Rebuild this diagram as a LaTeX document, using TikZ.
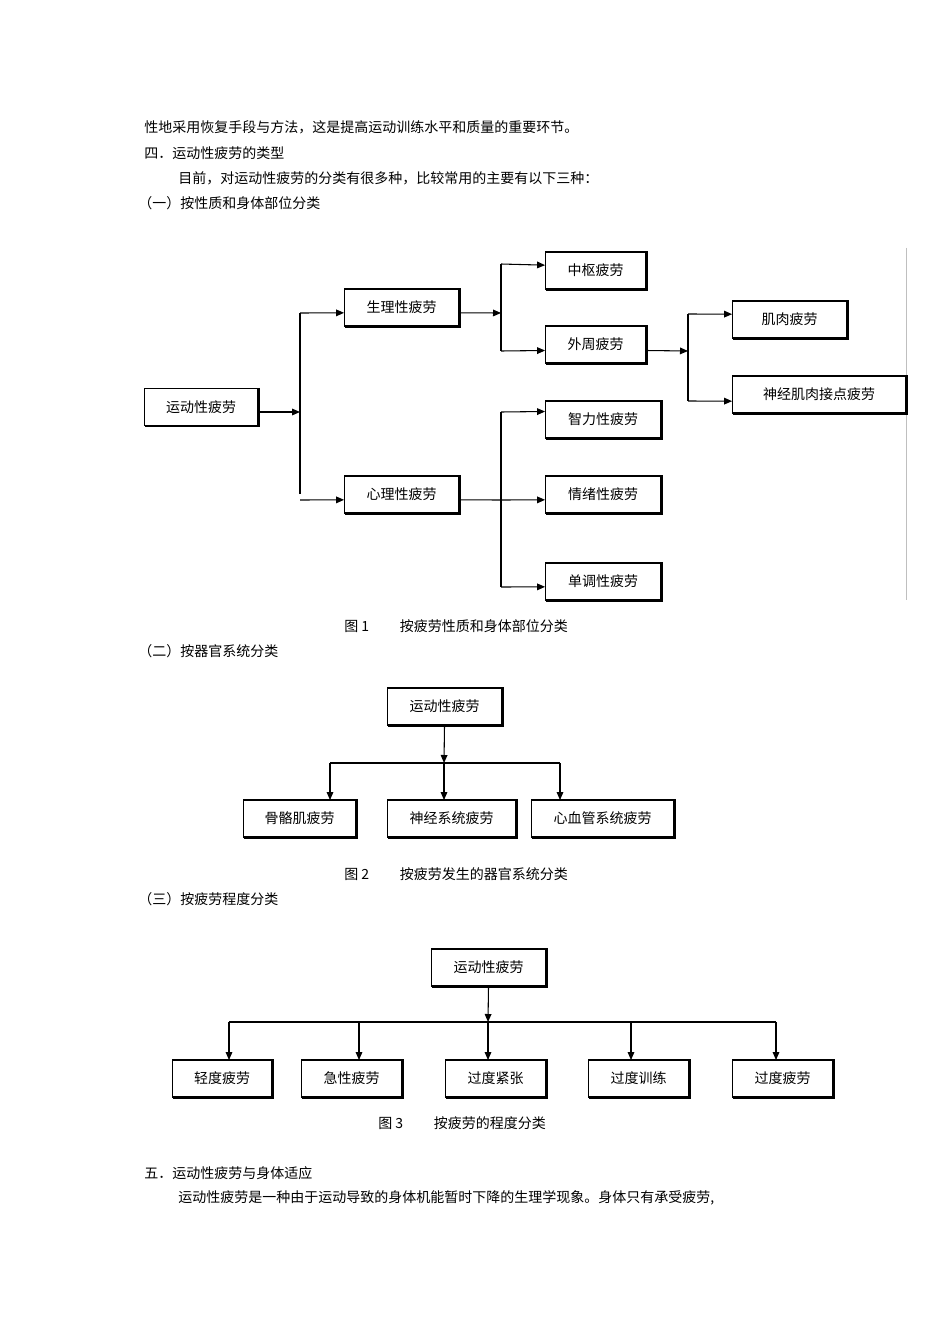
\documentclass[tikz,border=0pt]{standalone}
\usepackage{fontspec}
\setmainfont{Noto Sans CJK SC}
\usetikzlibrary{arrows.meta}
\begin{document}
\begin{tikzpicture}[x=0.75pt,y=-0.75pt,font=\fontsize{10.5pt}{12pt}\selectfont,
  box/.style={draw,line width=0.9pt,minimum height=27.75pt,inner sep=0pt,fill=white},
  txt/.style={anchor=west,inner sep=0pt},
  ln/.style={line width=0.8pt},
  ar/.style={ln,-{Triangle[length=6pt,width=5pt]}}]
\useasboundingbox (0,0) rectangle (950,1344);
\fill[white] (0,0) rectangle (950,1344);
\newcommand{\bx}[5]{\node[box,minimum width=#4*0.75pt-1pt] (#1) at (#2+#4/2,#3) {#5};
  \draw[line width=1.8pt] ([xshift=1pt]#1.north east) -- ([xshift=1pt]#1.south east) -- ([xshift=1pt]#1.south west);}
% texts
\node[txt] (t1) at (144,127) {性地采用恢复手段与方法，这是提高运动训练水平和质量的重要环节。};
\node[txt] (t2) at (144,153) {四．运动性疲劳的类型};
\node[txt] (t3) at (178,178) {目前，对运动性疲劳的分类有很多种，比较常用的主要有以下三种：};
\node[txt] (t4) at (138,203) {（一）按性质和身体部位分类};
\node[txt] (c1) at (344,626) {图 1\hspace{2.2em}按疲劳性质和身体部位分类};
\node[txt] (t5) at (138,651) {（二）按器官系统分类};
\node[txt] (c2) at (344,874) {图 2\hspace{2.2em}按疲劳发生的器官系统分类};
\node[txt] (t6) at (138,899) {（三）按疲劳程度分类};
\node[txt] (c3) at (378,1123) {图 3\hspace{2.2em}按疲劳的程度分类};
\node[txt] (t7) at (144,1173) {五．运动性疲劳与身体适应};
\node[txt] (t8) at (178,1198) {运动性疲劳是一种由于运动导致的身体机能暂时下降的生理学现象。身体只有承受疲劳,};
\draw[gray!50,line width=0.5pt] (906,248) -- (906,600);
% fig 1
\bx{r1}{144}{407}{114}{运动性疲劳}
\bx{s1}{344}{307.5}{115}{生理性疲劳}
\bx{p1}{344}{494.5}{115}{心理性疲劳}
\bx{a1}{545}{270.5}{101}{中枢疲劳}
\bx{a2}{545}{344.5}{101}{外周疲劳}
\bx{m1}{732}{319.5}{115}{肌肉疲劳}
\bx{m2}{732}{394.5}{174}{神经肌肉接点疲劳}
\bx{b1}{545}{419.5}{116}{智力性疲劳}
\bx{b2}{545}{494.5}{116}{情绪性疲劳}
\bx{b3}{545}{581.5}{116}{单调性疲劳}
\coordinate (j1) at (300,412);
\draw[ar] ([yshift=-3.75pt]r1.east) -- (j1);
\draw[ln] (300,494) -- (300,313);
\draw[ar] (300,313) -- ([yshift=-4pt]s1.west);
\draw[ar] (300,500) -- ([yshift=-4pt]p1.west);
\draw[ar] ([yshift=-4pt]s1.east) -- (501,313);
\draw[ln] (501,264) -- (501,351);
\draw[ar] (501,264) -- ([yshift=4pt]a1.west);
\draw[ar] (501,351) -- ([yshift=-4.5pt]a2.west);
\draw[ar] ([yshift=-4.5pt]a2.east) -- (688,351);
\draw[ln] (688,314) -- (688,401);
\draw[ar] (688,314) -- ([yshift=4pt]m1.west);
\draw[ar] (688,401) -- ([yshift=-5pt]m2.west);
\draw[ln] ([yshift=-4pt]p1.east) -- (501,500);
\draw[ln] (501,412) -- (501,587);
\draw[ar] (501,412) -- ([yshift=6pt]b1.west);
\draw[ar] (501,587) -- ([yshift=-4pt]b3.west);
\draw[ar] (501,500) -- ([yshift=-4pt]b2.west);
% fig 2
\bx{r2}{387}{706.5}{115}{运动性疲劳}
\bx{g1}{243}{818.5}{113}{骨骼肌疲劳}
\bx{g2}{387}{818.5}{129}{神经系统疲劳}
\bx{g3}{531}{818.5}{143}{心血管系统疲劳}
\draw[ar] (r2.south) -- (444,763);
\draw[ln] (330,763) -- (560,763);
\draw[ar] (330,763) -- (330,800);
\draw[ar] (444,763) -- (444,800);
\draw[ar] (560,763) -- (560,800);
% fig 3
\bx{r3}{431}{967.5}{115}{运动性疲劳}
\bx{h1}{172}{1078.5}{100}{轻度疲劳}
\bx{h2}{301}{1078.5}{101}{急性疲劳}
\bx{h3}{445}{1078.5}{101}{过度紧张}
\bx{h4}{588}{1078.5}{101}{过度训练}
\bx{h5}{732}{1078.5}{101}{过度疲劳}
\draw[ar] (r3.south) -- (488,1022);
\draw[ln] (229,1022) -- (776,1022);
\foreach \x in {229,359,488,631,776} \draw[ar] (\x,1022) -- (\x,1060);
\end{tikzpicture}
\end{document}
